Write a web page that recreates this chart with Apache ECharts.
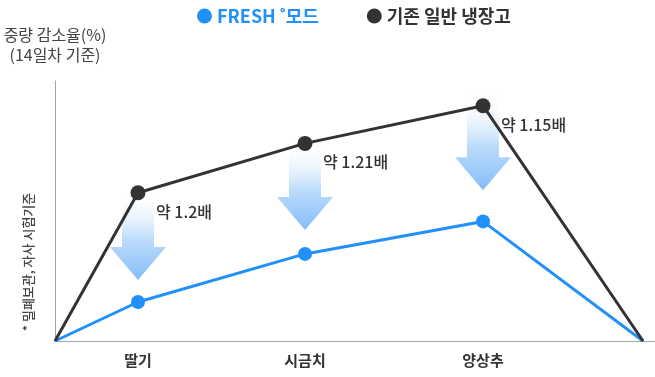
<!DOCTYPE html>
<html>
<head>
<meta charset="utf-8">
<script src="https://cdn.jsdelivr.net/npm/echarts@6/dist/echarts.min.js"></script>
<style>
html, body { margin: 0; padding: 0; background: #fff; }
#main { width: 655px; height: 377px; }
</style>
</head>
<body>
<div id="main"></div>
<script>
// 카테고리 / 데이터
var categories = ['딸기', '시금치', '양상추'];
var xPos = [0, 83, 250, 428, 588];          // 시작점, 딸기, 시금치, 양상추, 끝점
var freshValues = [0, 15, 33.5, 46, 0];
var normalValues = [0, 57, 76, 90.5, 0];
var arrowTop = [58, 77, 96];
var arrowTip = [23.5, 42.7, 58];
var ratioLabels = ['약 1.2배', '약 1.21배', '약 1.15배'];

var FONT = '"Noto Sans CJK KR", "Noto Sans", sans-serif';
var blue = '#2190fb';
var dark = '#333333';

function lineData(values) {
    return values.map(function (v, i) {
        var edge = (i === 0 || i === values.length - 1);
        return { value: [xPos[i], v], symbol: edge ? 'none' : 'circle' };
    });
}

var arrowData = categories.map(function (c, i) {
    return [xPos[i + 1], arrowTop[i], arrowTip[i], normalValues[i + 1], ratioLabels[i]];
});

var option = {
    animation: false,
    textStyle: { fontFamily: FONT },
    legend: {
        data: [
            { name: 'FRESH ˚모드', textStyle: { color: blue } },
            { name: '기존 일반 냉장고', textStyle: { color: dark } }
        ],
        left: 192,
        top: 2,
        icon: 'circle',
        itemWidth: 15,
        itemHeight: 15,
        itemGap: 48,
        textStyle: { fontSize: 18, fontWeight: 'bold', fontFamily: FONT }
    },
    grid: { left: 55, right: 0, top: 81, bottom: 36 },
    xAxis: {
        type: 'value',
        min: 0,
        max: 600,
        axisLine: { show: true, lineStyle: { color: '#9ea6ae', width: 1 } },
        axisTick: { show: false },
        splitLine: { show: false },
        axisLabel: {
            customValues: xPos.slice(1, 4),
            formatter: function (v) {
                return categories[xPos.indexOf(v) - 1] || '';
            },
            margin: 12,
            fontSize: 15,
            fontWeight: 'bold',
            color: '#333'
        }
    },
    yAxis: {
        type: 'value',
        min: 0,
        max: 100,
        name: '중량 감소율(%)\n(14일차 기준)',
        nameLocation: 'end',
        nameGap: 16,
        nameTextStyle: { color: '#444', fontSize: 16, lineHeight: 20, align: 'center', fontFamily: FONT },
        axisLine: { show: true, lineStyle: { color: '#9ea6ae', width: 1 } },
        axisTick: { show: false },
        axisLabel: { show: false },
        splitLine: { show: false }
    },
    graphic: [{
        type: 'text',
        x: 28,
        y: 262,
        rotation: Math.PI / 2,
        style: {
            text: '* 밀폐보관, 자사 시험기준',
            align: 'center',
            verticalAlign: 'middle',
            fontSize: 13,
            fontWeight: 500,
            fontFamily: FONT,
            fill: '#444'
        }
    }],
    series: [
        {
            type: 'custom',
            z: 1,
            silent: true,
            data: arrowData,
            renderItem: function (params, api) {
                var x = api.value(0);
                var p1 = api.coord([x, api.value(1)]);
                var p2 = api.coord([x, api.value(2)]);
                var pn = api.coord([x, api.value(3)]);
                var cx = p1[0], y0 = p1[1], y1 = p2[1];
                var hw = 16, headW = 28, headH = 33;
                var pts = [
                    [cx - hw, y0], [cx + hw, y0], [cx + hw, y1 - headH],
                    [cx + headW, y1 - headH], [cx, y1], [cx - headW, y1 - headH],
                    [cx - hw, y1 - headH]
                ];
                return {
                    type: 'group',
                    children: [
                        {
                            type: 'polygon',
                            shape: { points: pts },
                            style: {
                                fill: new echarts.graphic.LinearGradient(0, 0, 0, 1, [
                                    { offset: 0, color: 'rgba(255,255,255,0)' },
                                    { offset: 0.55, color: '#bcdcfb' },
                                    { offset: 1, color: '#84bdf8' }
                                ])
                            }
                        },
                        {
                            type: 'text',
                            x: cx + 18,
                            y: pn[1] + 19,
                            z2: 10,
                            style: {
                                text: api.value(4),
                                fill: '#333',
                                fontSize: 16,
                                fontWeight: 500,
                                fontFamily: FONT,
                                verticalAlign: 'middle'
                            }
                        }
                    ]
                };
            }
        },
        {
            name: 'FRESH ˚모드',
            type: 'line',
            z: 3,
            data: lineData(freshValues),
            symbolSize: 14,
            color: blue,
            lineStyle: { width: 3, color: blue },
            itemStyle: { color: blue }
        },
        {
            name: '기존 일반 냉장고',
            type: 'line',
            z: 4,
            data: lineData(normalValues),
            symbolSize: 15,
            color: dark,
            lineStyle: { width: 3, color: dark },
            itemStyle: { color: dark }
        }
    ]
};

var myChart = echarts.init(document.getElementById('main'));
myChart.setOption(option);
</script>
</body>
</html>
